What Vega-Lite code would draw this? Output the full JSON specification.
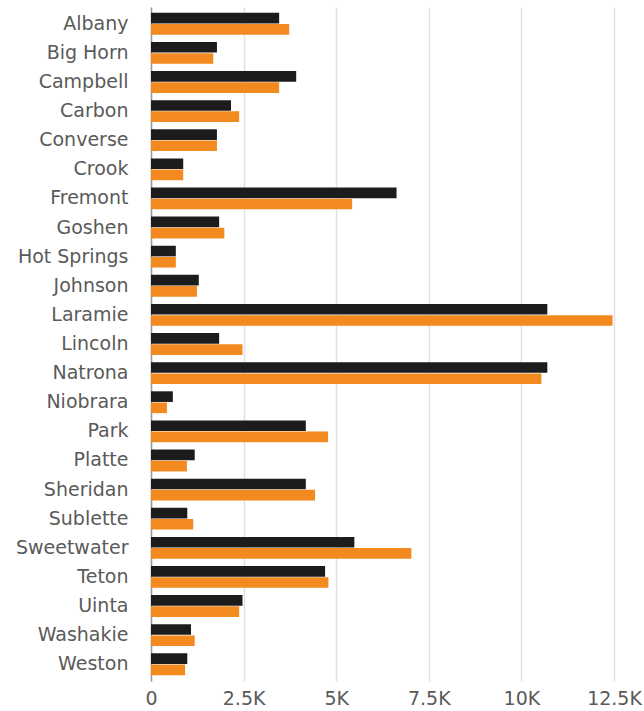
{
  "$schema": "https://vega.github.io/schema/vega-lite/v6.json",
  "autosize": {"type": "none"},
  "padding": {"left": 151, "top": 7, "right": 30, "bottom": 30},
  "width": 463,
  "height": 674,
  "background": "white",
  "data": {"values": [
    {"county": "Albany", "series": "A", "value": 3460},
    {"county": "Albany", "series": "B", "value": 3730},
    {"county": "Big Horn", "series": "A", "value": 1780},
    {"county": "Big Horn", "series": "B", "value": 1680},
    {"county": "Campbell", "series": "A", "value": 3920},
    {"county": "Campbell", "series": "B", "value": 3460},
    {"county": "Carbon", "series": "A", "value": 2160},
    {"county": "Carbon", "series": "B", "value": 2380},
    {"county": "Converse", "series": "A", "value": 1780},
    {"county": "Converse", "series": "B", "value": 1780},
    {"county": "Crook", "series": "A", "value": 870},
    {"county": "Crook", "series": "B", "value": 870},
    {"county": "Fremont", "series": "A", "value": 6630},
    {"county": "Fremont", "series": "B", "value": 5430},
    {"county": "Goshen", "series": "A", "value": 1840},
    {"county": "Goshen", "series": "B", "value": 1980},
    {"county": "Hot Springs", "series": "A", "value": 670},
    {"county": "Hot Springs", "series": "B", "value": 670},
    {"county": "Johnson", "series": "A", "value": 1290},
    {"county": "Johnson", "series": "B", "value": 1240},
    {"county": "Laramie", "series": "A", "value": 10700},
    {"county": "Laramie", "series": "B", "value": 12460},
    {"county": "Lincoln", "series": "A", "value": 1840},
    {"county": "Lincoln", "series": "B", "value": 2470},
    {"county": "Natrona", "series": "A", "value": 10700},
    {"county": "Natrona", "series": "B", "value": 10540},
    {"county": "Niobrara", "series": "A", "value": 590},
    {"county": "Niobrara", "series": "B", "value": 430},
    {"county": "Park", "series": "A", "value": 4180},
    {"county": "Park", "series": "B", "value": 4780},
    {"county": "Platte", "series": "A", "value": 1180},
    {"county": "Platte", "series": "B", "value": 970},
    {"county": "Sheridan", "series": "A", "value": 4180},
    {"county": "Sheridan", "series": "B", "value": 4430},
    {"county": "Sublette", "series": "A", "value": 980},
    {"county": "Sublette", "series": "B", "value": 1140},
    {"county": "Sweetwater", "series": "A", "value": 5490},
    {"county": "Sweetwater", "series": "B", "value": 7030},
    {"county": "Teton", "series": "A", "value": 4700},
    {"county": "Teton", "series": "B", "value": 4790},
    {"county": "Uinta", "series": "A", "value": 2470},
    {"county": "Uinta", "series": "B", "value": 2380},
    {"county": "Washakie", "series": "A", "value": 1080},
    {"county": "Washakie", "series": "B", "value": 1180},
    {"county": "Weston", "series": "A", "value": 980},
    {"county": "Weston", "series": "B", "value": 920}
  ]},
  "mark": {"type": "bar"},
  "encoding": {
    "y": {
      "field": "county", "type": "nominal", "sort": null, "title": null,
      "scale": {"paddingInner": 0.25, "paddingOuter": 0.2},
      "axis": {"ticks": false, "labelFont": "DejaVu Sans", "labelFontSize": 19, "labelColor": "#5a5a5a", "labelPadding": 23, "domain": true, "domainColor": "#9a9a9a", "domainWidth": 1.5, "grid": false}
    },
    "yOffset": {"field": "series", "type": "nominal", "scale": {"paddingInner": 0.05}},
    "x": {
      "field": "value", "type": "quantitative", "title": null,
      "scale": {"domain": [0, 12500], "nice": false},
      "axis": {"values": [0, 2500, 5000, 7500, 10000, 12500], "labelExpr": "datum.value == 0 ? '0' : format(datum.value/1000, '~r') + 'K'", "labelFlush": false, "labelOverlap": false, "ticks": false, "domain": false, "labelFont": "DejaVu Sans", "labelFontSize": 19, "labelColor": "#5a5a5a", "labelPadding": 8, "gridColor": "#dfe2e5", "gridWidth": 1.5}
    },
    "color": {"field": "series", "type": "nominal", "legend": null, "scale": {"domain": ["A", "B"], "range": ["#1c1c1c", "#f28a20"]}}
  },
  "config": {"view": {"stroke": null}}
}
